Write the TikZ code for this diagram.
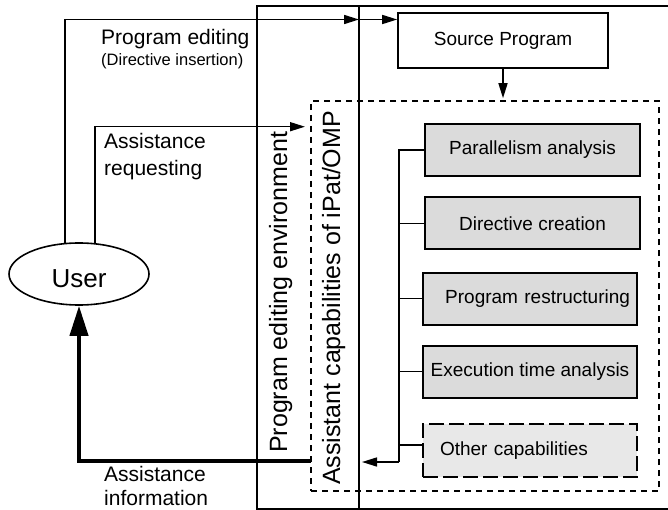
\documentclass[tikz,border=0pt]{standalone}
\usepackage{fontspec}
\setmainfont{Liberation Sans}
\usetikzlibrary{arrows.meta,calc,shapes.geometric}
\tikzset{
  ln/.style={line width=1.6pt},
  arr/.style={ln,-{Triangle[length=15pt,width=9pt]}},
  bigarr/.style={line width=4pt,-{Triangle[length=30pt,width=18pt]}},
  capbox/.style={draw,line width=2pt,fill=gray!28,minimum width=215pt,minimum height=52pt,inner sep=0pt,font=\fontsize{19}{22}\selectfont},
  srcbox/.style={draw,line width=1.6pt,fill=white,minimum width=210pt,minimum height=55pt,inner sep=0pt,font=\fontsize{19}{22}\selectfont},
  lbl/.style={anchor=base west,inner sep=0pt,font=\fontsize{21}{25}\selectfont},
  vlbl/.style={anchor=base west,inner sep=0pt,rotate=90,font=\fontsize{25}{30}\selectfont},
}
\begin{document}
\begin{tikzpicture}[x=1pt,y=-1pt]
\useasboundingbox (0,0) rectangle (668,510);
% outer frame and divider
\draw[ln] (672,6) -- (257,6) -- (257,509) -- (672,509);
\draw[ln] (359,6) -- (359,509);
% assist dashed region
\node[draw,ln,dash pattern=on 6pt off 5pt,minimum width=348pt,minimum height=390pt,inner sep=0pt] (assist) at (485,296) {};
% source program
\node[srcbox] (src) at (503,40.5) {Source Program};
% capability boxes
\node[capbox] (pa) at (532.5,150) {Parallelism analysis};
\node[capbox] (dc) at (532.5,223.5) {Directive creation};
\node[capbox,minimum width=214pt,text width=200pt,align=right] (pr) at (530,298.5) {Program restructuring};
\node[capbox,minimum width=214pt] (et) at (530,371.5) {Execution time analysis};
\node[capbox,minimum width=214pt,minimum height=53pt,fill=gray!18,dash pattern=on 15pt off 5pt,text width=180pt,align=left] (oc) at (530,450.5) {Other capabilities};
% user
\node[draw,ln,ellipse,minimum width=140pt,minimum height=62pt,inner sep=0pt] (user) at (79,274) {};
\node[anchor=base,inner sep=0pt,font=\fontsize{26}{30}\selectfont] (usertxt) at (79,287) {User};
% coordinates
\coordinate (pe0) at (65,244);
\coordinate (divtop) at (359,19.5);
\coordinate (ar0) at (95,244);
\coordinate (arend) at (305,126.7);
\coordinate (bt) at (398.7,150);
\coordinate (bb) at (398.7,462);
\coordinate (ain) at (362,462);
\coordinate (octick) at (423,445);
\coordinate (aiout) at (311,460.7);
% connectors
\draw[arr] (pe0) |- (divtop);
\draw[arr] (divtop) -- (src.west |- divtop);
\draw[arr] (ar0) |- (arend);
\draw[arr,shorten >=2pt] (src.south) -- (src.south |- assist.north);
\draw[ln] (pa.west) -- (bt) -- (bb);
\draw[ln] (dc.west) -- (dc.west -| bt);
\draw[ln] (pr.west) -- (pr.west -| bt);
\draw[ln] (et.west) -- (et.west -| bt);
\draw[ln] (octick) -- (octick -| bt);
\draw[arr] (bb) -- (ain);
\draw[bigarr] (aiout) -| (user.south);
% labels
\node[lbl] (l1) at (101,45) {Program editing};
\node[lbl,font=\fontsize{16.5}{20}\selectfont] (l2) at (101,66) {(Directive insertion)};
\node[lbl] (l3) at (104,149) {Assistance};
\node[lbl] (l4) at (104,176) {requesting};
\node[lbl] (l5) at (104,481) {Assistance};
\node[lbl] (l6) at (104,505) {information};
\node[vlbl] (v1) at (287,453) {Program editing environment};
\node[vlbl] (v2) at (340,485) {Assistant capabilities of iPat/OMP};
\end{tikzpicture}
\end{document}
